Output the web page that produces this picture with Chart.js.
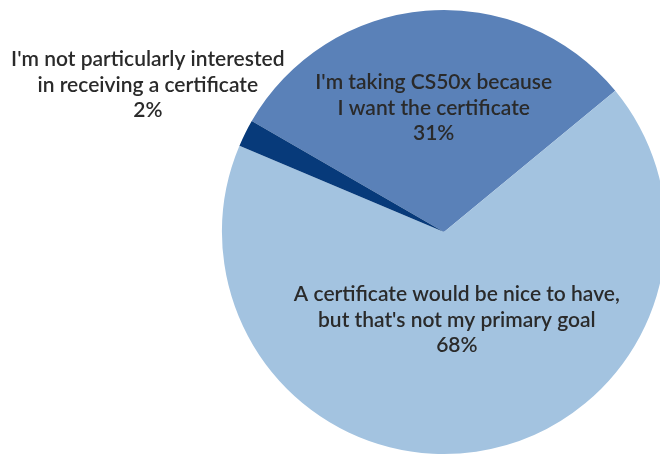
<!DOCTYPE html>
<html>
<head>
<meta charset="utf-8">
<script src="https://cdn.jsdelivr.net/npm/chart.js@4/dist/chart.umd.min.js"></script>
<style>
  html, body { margin: 0; padding: 0; background: #fff; overflow: hidden; }
  #wrap { width: 680px; height: 455px; }
</style>
</head>
<body>
<div id="wrap"><canvas id="pieChart" width="680" height="455"></canvas></div>
<script>
// --- data ---
const answers = [
    ["I'm taking CS50x because", "I want the certificate"],
    ["A certificate would be nice to have,", "but that's not my primary goal"],
    ["I'm not particularly interested", "in receiving a certificate"]
];
const percents = [31, 68, 2];
const sliceColors = ['#5A81B8', '#A3C3E0', '#073A7A'];

// how far out (in radii) each label sits along its slice's middle angle
const labelDistance = [0.56, 0.40, 1.49];

// draw the labels inside / beside each slice
const sliceLabels = {
    id: 'sliceLabels',
    afterDatasetsDraw(chart) {
        const ctx = chart.ctx;
        const arcs = chart.getDatasetMeta(0).data;
        ctx.save();
        ctx.font = '600 21px Lato, "Open Sans", sans-serif';
        ctx.fillStyle = '#2a2a2a';
        ctx.textAlign = 'center';
        ctx.textBaseline = 'middle';
        const lineHeight = 25.5;
        arcs.forEach((arc, i) => {
            const p = arc.getProps(['x', 'y', 'startAngle', 'endAngle', 'outerRadius'], true);
            const mid = (p.startAngle + p.endAngle) / 2;
            const cx = p.x + Math.cos(mid) * p.outerRadius * labelDistance[i];
            const cy = p.y + Math.sin(mid) * p.outerRadius * labelDistance[i];
            const lines = answers[i].concat([percents[i] + '%']);
            const top = cy - lineHeight * (lines.length - 1) / 2;
            lines.forEach((txt, j) => {
                ctx.fillText(txt, cx, top + j * lineHeight);
            });
        });
        ctx.restore();
    }
};

new Chart(document.getElementById('pieChart'), {
    type: 'pie',
    data: {
        labels: answers.map(a => a.join(' ')),
        datasets: [{
            data: percents,
            backgroundColor: sliceColors,
            borderWidth: 0
        }]
    },
    options: {
        responsive: false,
        animation: false,
        rotation: 300,
        layout: {
            padding: { left: 222, right: 14, top: 10, bottom: 1 }
        },
        plugins: {
            legend: { display: false },
            tooltip: { enabled: false }
        }
    },
    plugins: [sliceLabels]
});
</script>
</body>
</html>
